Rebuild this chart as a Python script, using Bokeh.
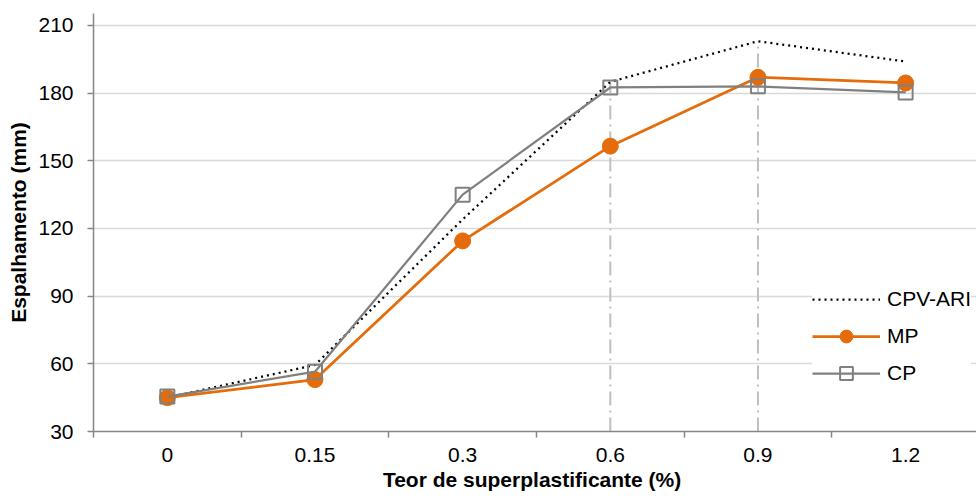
from bokeh.plotting import figure
from bokeh.models import Range1d, FixedTicker, Legend, LegendItem
from bokeh.embed import file_html
from bokeh.resources import INLINE

# ---- data ----
categories = ["0", "0.15", "0.3", "0.6", "0.9", "1.2"]
cpv_ari = [45, 59.5, 124, 185, 203, 194]
mp = [45, 53, 114.5, 156.5, 187, 184.5]
cp = [45.5, 56.5, 135, 182.5, 183, 180.3]
y_ticks = [30, 60, 90, 120, 150, 180, 210]
ref_categories = ["0.6", "0.9"]

x = list(range(len(categories)))
ref_x = [categories.index(c) for c in ref_categories]
ref_top = [cpv_ari[i] for i in ref_x]
ref_bottom = [y_ticks[0]] * len(ref_x)

FONT = "Liberation Sans"
ORANGE = "#E46C0A"
GRAY = "#808080"
AXIS = "#868686"

p = figure(width=976, height=499,
           x_range=Range1d(-0.5, 5.48), y_range=Range1d(30, 215.3),
           output_backend="svg", toolbar_location=None,
           min_border_left=93, min_border_right=0,
           min_border_top=13, min_border_bottom=68)
p.outline_line_color = None
p.background_fill_color = "white"

# reference vertical lines
p.segment(x0=ref_x, y0=ref_bottom, x1=ref_x, y1=ref_top,
          line_color="#BFBFBF", line_width=2, line_dash="14 5 2 5")

r_cpv = p.line(x, cpv_ari, line_color="black", line_width=2.25, line_dash="2 4")
r_mp_l = p.line(x, mp, line_color=ORANGE, line_width=2.75)
r_mp_m = p.scatter(x, mp, marker="circle", size=16, fill_color=ORANGE,
                   line_color=ORANGE, line_width=1)
r_cp_l = p.line(x, cp, line_color=GRAY, line_width=2.25)
r_cp_m = p.scatter(x, cp, marker="square", size=14, fill_color=None,
                   line_color=GRAY, line_width=2)

# axes
xa = p.xaxis[0]
xa.ticker = FixedTicker(ticks=x, minor_ticks=[i - 0.5 for i in range(len(categories) + 1)])
xa.major_label_overrides = {i: c for i, c in enumerate(categories)}
xa.major_tick_line_color = None
xa.major_tick_out = 0
xa.major_tick_in = 0
xa.minor_tick_line_color = AXIS
xa.minor_tick_line_width = 1.5
xa.minor_tick_out = 6
xa.minor_tick_in = 0
xa.major_label_standoff = 10
xa.axis_label = "Teor de superplastificante  (%)"
xa.axis_label_standoff = 3

ya = p.yaxis[0]
ya.ticker = FixedTicker(ticks=y_ticks, minor_ticks=[])
ya.major_tick_line_color = AXIS
ya.major_tick_line_width = 1.5
ya.major_tick_out = 6
ya.major_tick_in = 0
ya.minor_tick_line_color = None
ya.major_label_standoff = 14
ya.axis_label = "Espalhamento (mm)"
ya.axis_label_standoff = 5

for ax in (xa, ya):
    ax.axis_line_color = AXIS
    ax.axis_line_width = 1.5
    ax.major_label_text_font = FONT
    ax.major_label_text_font_size = "21px"
    ax.major_label_text_color = "black"
    ax.axis_label_text_font = FONT
    ax.axis_label_text_font_size = "21px"
    ax.axis_label_text_font_style = "bold"
    ax.axis_label_text_color = "black"

p.xgrid.visible = False
p.ygrid.grid_line_color = "#D9D9D9"
p.ygrid.grid_line_width = 1.5

legend = Legend(items=[
    LegendItem(label="CPV-ARI", renderers=[r_cpv]),
    LegendItem(label="MP", renderers=[r_mp_l, r_mp_m]),
    LegendItem(label="CP", renderers=[r_cp_l, r_cp_m]),
], location=(719, 40))
legend.padding = 0
legend.spacing = 0
legend.margin = 0
legend.glyph_width = 68
legend.glyph_height = 32
legend.label_height = 37
legend.label_standoff = 7
legend.label_text_font = FONT
legend.label_text_font_size = "21px"
legend.label_text_color = "black"
legend.border_line_color = None
legend.background_fill_color = "white"
legend.background_fill_alpha = 1.0
p.add_layout(legend)

open("out.html", "w").write(file_html(p, INLINE))
